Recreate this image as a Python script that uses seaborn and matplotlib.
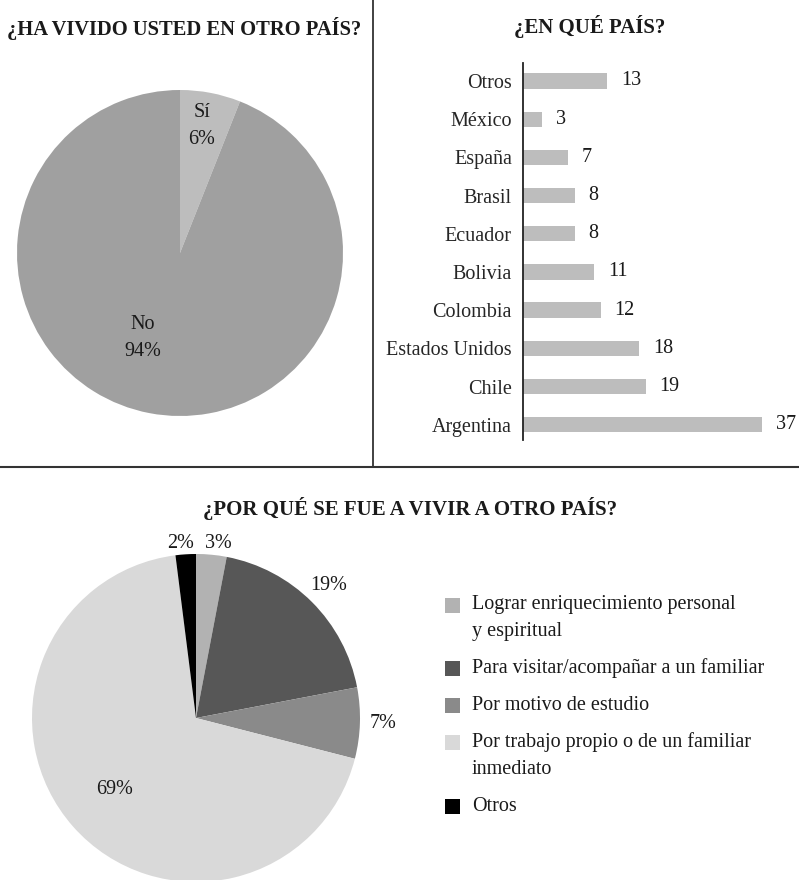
import matplotlib
matplotlib.use("Agg")
import numpy as np
import pandas as pd
import matplotlib.pyplot as plt
import seaborn as sns
from matplotlib.patches import Rectangle
from matplotlib.lines import Line2D

# =====================================
# Data
# =====================================
vivido_labels = ["Sí", "No"]
vivido_pct = [6, 94]
vivido_colors = ["#bdbdbd", "#a0a0a0"]

paises = ["Otros", "México", "España", "Brasil", "Ecuador", "Bolivia",
          "Colombia", "Estados Unidos", "Chile", "Argentina"]
paises_n = [13, 3, 7, 8, 8, 11, 12, 18, 19, 37]

motivos = ["Lograr enriquecimiento personal\ny espiritual",
           "Para visitar/acompañar a un familiar",
           "Por motivo de estudio",
           "Por trabajo propio o de un familiar\ninmediato",
           "Otros"]
motivos_pct = [3, 19, 7, 69, 2]
motivos_colors = ["#b2b2b2", "#575757", "#8a8a8a", "#d9d9d9", "#000000"]

W, H = 799, 880
FS = 14.5

sns.set_theme(style="white")
plt.rcParams["font.family"] = ["Liberation Serif", "DejaVu Serif"]
plt.rcParams["text.color"] = "#1a1a1a"

fig = plt.figure(figsize=(W / 100, H / 100), dpi=100)


def px_axes(x0, y0, w, h):
    # axes placed with pixel coords measured from the top-left corner
    return fig.add_axes([x0 / W, 1 - (y0 + h) / H, w / W, h / H])


def label_wedges(ax, wedges, texts, dists, shifts=None):
    shifts = shifts or [0] * len(wedges)
    for w, t, d, s in zip(wedges, texts, dists, shifts):
        ang = np.deg2rad((w.theta1 + w.theta2) / 2 + s)
        ax.text(d * np.cos(ang), d * np.sin(ang), t, ha="center", va="center",
                fontsize=FS, linespacing=1.55)


# =====================================
# Top-left pie
# =====================================
ax1 = px_axes(17, 90, 326, 326)
wedges, _ = ax1.pie(vivido_pct, colors=vivido_colors, startangle=90,
                    counterclock=False, wedgeprops=dict(linewidth=0))
ax1.set_xlim(-1, 1)
ax1.set_ylim(-1, 1)
label_wedges(ax1, wedges,
             [f"{l}\n{p}%" for l, p in zip(vivido_labels, vivido_pct)],
             [0.79, 0.57], [1, -13])
fig.text(184 / W, 1 - 28 / H, "¿HA VIVIDO USTED EN OTRO PAÍS?", ha="center",
         va="center", fontsize=14.8, fontweight="bold")

# =====================================
# Top-right bars
# =====================================
df = pd.DataFrame({"pais": paises, "n": paises_n})
ax2 = px_axes(523, 63, 276, 377)
sns.barplot(data=df, y="pais", x="n", color="#bdbdbd", width=0.4,
            saturation=1, ax=ax2, linewidth=0)
ax2.set_xlim(0, 276 / 6.46)
ax2.set_ylim(9.4, -0.47)
ax2.bar_label(ax2.containers[0], padding=10, fontsize=FS)
sns.despine(ax=ax2, left=False, bottom=True)
ax2.spines["left"].set_color("#222222")
ax2.spines["left"].set_linewidth(1.3)
ax2.set_xticks([])
ax2.set_xlabel("")
ax2.set_ylabel("")
ax2.tick_params(axis="y", length=0, pad=8, labelsize=FS)
fig.text(590 / W, 1 - 27 / H, "¿EN QUÉ PAÍS?", ha="center", va="center",
         fontsize=15, fontweight="bold")

# separators
fig.add_artist(Line2D([372.5 / W] * 2, [1, 1 - 466 / H], color="#333333", lw=1.3))
fig.add_artist(Line2D([0, 1], [1 - 467 / H] * 2, color="#333333", lw=1.5))

# =====================================
# Bottom pie
# =====================================
fig.text(410 / W, 1 - 509 / H, "¿POR QUÉ SE FUE A VIVIR A OTRO PAÍS?",
         ha="center", va="center", fontsize=15, fontweight="bold")
ax3 = px_axes(32, 554, 328, 328)
wedges, _ = ax3.pie(motivos_pct, colors=motivos_colors, startangle=90,
                    counterclock=False, wedgeprops=dict(linewidth=0))
ax3.set_xlim(-1, 1)
ax3.set_ylim(-1, 1)
label_wedges(ax3, wedges, [f"{p}%" for p in motivos_pct],
             [1.07, 1.14, 1.14, 0.66, 1.07], [-1.8, 0, 0, 0, 1.3])

# legend drawn by hand so the square sits on the first text line
y = 605
for lab, col in zip(motivos, motivos_colors):
    fig.add_artist(Rectangle((445 / W, 1 - (y + 7.5) / H), 15 / W, 15 / H,
                             transform=fig.transFigure, color=col, lw=0))
    lines = lab.split("\n")
    for i, line in enumerate(lines):
        fig.text(472 / W, 1 - (y + i * 26.5) / H, line, ha="left", va="center",
                 fontsize=FS)
    y += len(lines) * 26.5 + 10.5

plt.savefig("out.png", dpi=100)
